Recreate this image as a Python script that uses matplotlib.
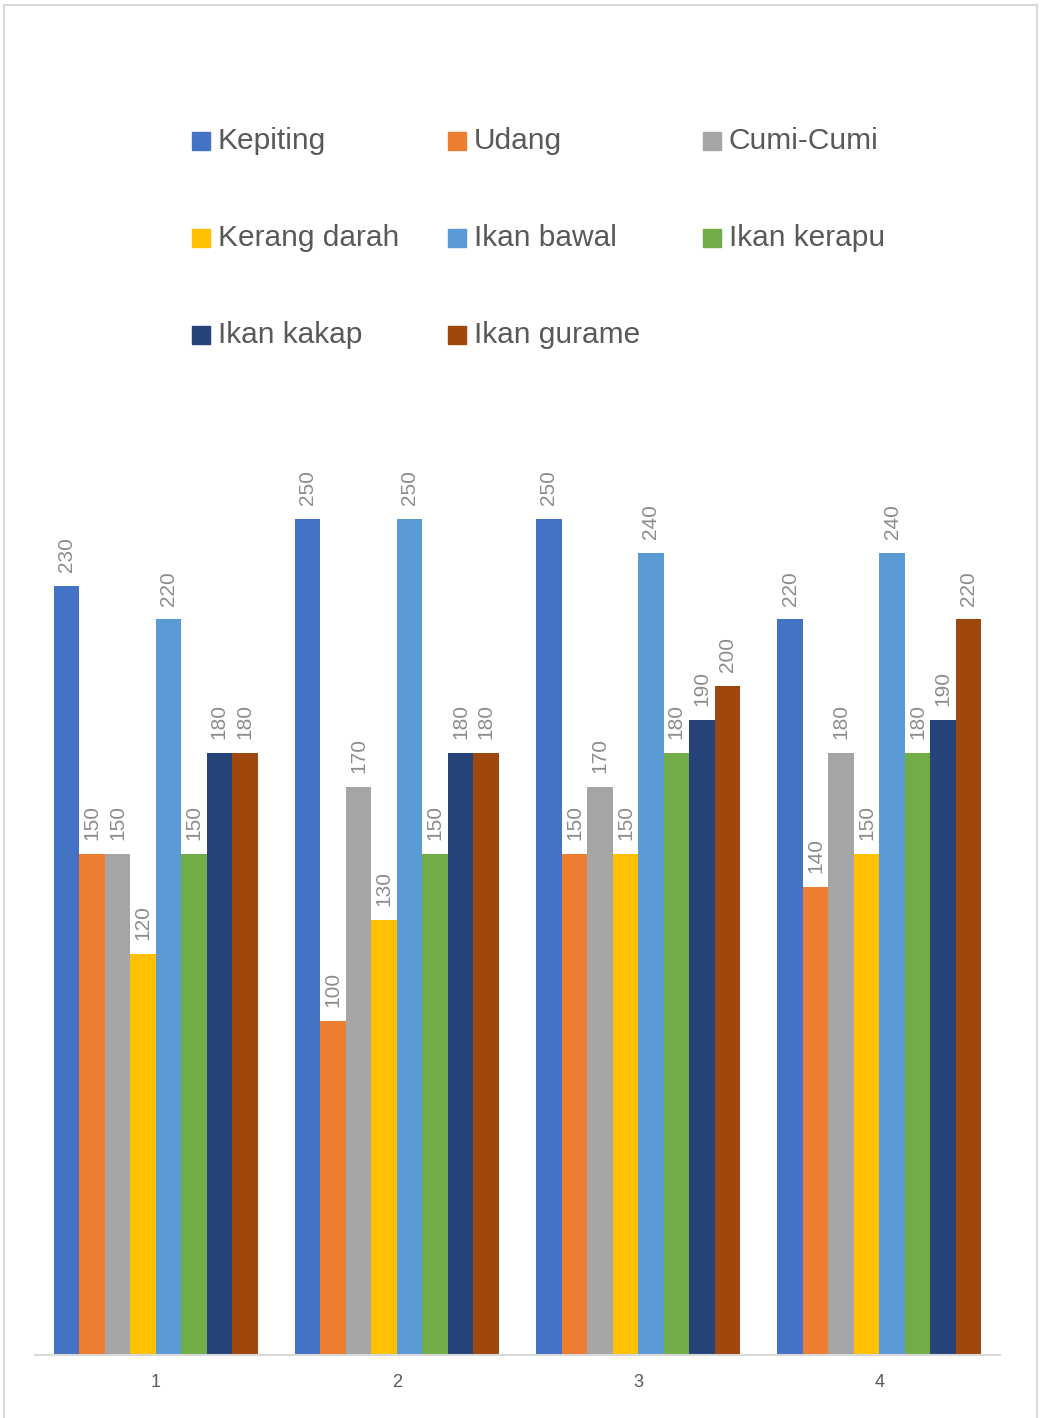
import numpy as np
import matplotlib.pyplot as plt
from matplotlib.patches import Rectangle
from matplotlib import font_manager

# font: a narrow sans if we have it
names = {f.name for f in font_manager.fontManager.ttflist}
fam = ['Liberation Sans Narrow', 'DejaVu Sans'] if 'Liberation Sans Narrow' in names else ['Liberation Sans', 'DejaVu Sans']
plt.rcParams['font.family'] = fam

# Data
categories = ['1', '2', '3', '4']
series = ['Kepiting', 'Udang', 'Cumi-Cumi', 'Kerang darah',
          'Ikan bawal', 'Ikan kerapu', 'Ikan kakap', 'Ikan gurame']
kepiting = [230, 250, 250, 220]
udang = [150, 100, 150, 140]
cumi = [150, 170, 170, 180]
kerang = [120, 130, 150, 150]
bawal = [220, 250, 240, 240]
kerapu = [150, 150, 180, 180]
kakap = [180, 180, 190, 190]
gurame = [180, 180, 200, 220]
values = [kepiting, udang, cumi, kerang, bawal, kerapu, kakap, gurame]
colors = ['#4472C4', '#ED7D31', '#A5A5A5', '#FFC000',
          '#5B9BD5', '#70AD47', '#264478', '#9E480E']

W, H = 1041, 1418
fig = plt.figure(figsize=(W / 100, H / 100), dpi=100)

# outer chart border (bottom edge runs off the picture)
fig.patches.append(Rectangle((4 / W, -0.01), 1033 / W, 1.01 - 5 / H, transform=fig.transFigure,
                             fill=False, edgecolor='#d9d9d9', linewidth=1.5))

ax = fig.add_axes([35 / W, (H - 1355) / H, 965 / W, (1355 - 352) / H])

x = np.arange(len(categories))
n = len(series)
group = 0.845
bw = group / n
for i, (name, vals, c) in enumerate(zip(series, values, colors)):
    pos = x - group / 2 + bw * (i + 0.5)
    ax.bar(pos, vals, width=bw, color=c, label=name)
    for p, v in zip(pos, vals):
        ax.annotate(str(v), (p, v), xytext=(0, 10), textcoords='offset points',
                    rotation=90, ha='center', va='bottom', fontsize=15, color='#8c8c8c')

ax.set_xlim(-0.5, len(categories) - 0.5)
ax.set_ylim(0, 300)
ax.set_yticks([])
ax.set_xticks(x)
ax.set_xticklabels(categories, fontsize=13, color='#595959')
ax.tick_params(axis='x', length=0, pad=14)
for s in ['top', 'right', 'left']:
    ax.spines[s].set_visible(False)
ax.spines['bottom'].set_color('#d9d9d9')
ax.spines['bottom'].set_linewidth(1.5)

# legend, 3 columns laid out like the original
for i, (name, c) in enumerate(zip(series, colors)):
    row, col = divmod(i, 3)
    mx = 192 + col * 255.5
    my = 141 + row * 97
    fig.patches.append(Rectangle((mx / W, (H - my - 9) / H), 18 / W, 18 / H,
                                 transform=fig.transFigure, color=c))
    fig.text((mx + 26) / W, (H - my) / H, name, fontsize=21.5, color='#595959',
             va='center', ha='left')

fig.savefig('out.png', dpi=100)
